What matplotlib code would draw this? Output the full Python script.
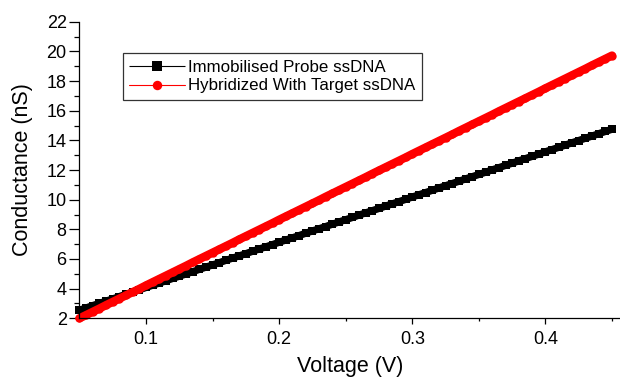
import matplotlib
matplotlib.use("Agg")
import matplotlib.pyplot as plt
from matplotlib.ticker import MultipleLocator

# voltage sweep (V), every 0.005 V
voltage = [0.050, 0.055, 0.060, 0.065, 0.070, 0.075, 0.080, 0.085, 0.090, 0.095,
           0.100, 0.105, 0.110, 0.115, 0.120, 0.125, 0.130, 0.135, 0.140, 0.145,
           0.150, 0.155, 0.160, 0.165, 0.170, 0.175, 0.180, 0.185, 0.190, 0.195,
           0.200, 0.205, 0.210, 0.215, 0.220, 0.225, 0.230, 0.235, 0.240, 0.245,
           0.250, 0.255, 0.260, 0.265, 0.270, 0.275, 0.280, 0.285, 0.290, 0.295,
           0.300, 0.305, 0.310, 0.315, 0.320, 0.325, 0.330, 0.335, 0.340, 0.345,
           0.350, 0.355, 0.360, 0.365, 0.370, 0.375, 0.380, 0.385, 0.390, 0.395,
           0.400, 0.405, 0.410, 0.415, 0.420, 0.425, 0.430, 0.435, 0.440, 0.445,
           0.450]

# conductance (nS)
probe = [2.55, 2.70, 2.86, 3.01, 3.16, 3.31, 3.47, 3.62, 3.77, 3.92,
         4.08, 4.23, 4.38, 4.53, 4.69, 4.84, 4.99, 5.14, 5.30, 5.45,
         5.60, 5.75, 5.91, 6.06, 6.21, 6.36, 6.52, 6.67, 6.82, 6.97,
         7.13, 7.28, 7.43, 7.58, 7.74, 7.89, 8.04, 8.19, 8.35, 8.50,
         8.65, 8.80, 8.96, 9.11, 9.26, 9.41, 9.57, 9.72, 9.87, 10.02,
         10.18, 10.33, 10.48, 10.63, 10.79, 10.94, 11.09, 11.24, 11.40, 11.55,
         11.70, 11.85, 12.01, 12.16, 12.31, 12.46, 12.62, 12.77, 12.92, 13.07,
         13.23, 13.38, 13.53, 13.68, 13.84, 13.99, 14.14, 14.29, 14.45, 14.60,
         14.75]

hybrid = [2.00, 2.22, 2.44, 2.66, 2.89, 3.11, 3.33, 3.55, 3.77, 3.99,
          4.22, 4.44, 4.66, 4.88, 5.10, 5.32, 5.54, 5.77, 5.99, 6.21,
          6.43, 6.65, 6.87, 7.09, 7.32, 7.54, 7.76, 7.98, 8.20, 8.42,
          8.65, 8.87, 9.09, 9.31, 9.53, 9.75, 9.97, 10.20, 10.42, 10.64,
          10.86, 11.08, 11.30, 11.52, 11.75, 11.97, 12.19, 12.41, 12.63, 12.85,
          13.08, 13.30, 13.52, 13.74, 13.96, 14.18, 14.40, 14.63, 14.85, 15.07,
          15.29, 15.51, 15.73, 15.96, 16.18, 16.40, 16.62, 16.84, 17.06, 17.28,
          17.51, 17.73, 17.95, 18.17, 18.39, 18.61, 18.83, 19.06, 19.28, 19.50,
          19.72]

plt.rcParams['font.family'] = ['Liberation Sans', 'DejaVu Sans']

fig = plt.figure(figsize=(6.2, 3.83), dpi=100)
ax = fig.add_axes([0.1282, 0.1689, 0.8718, 0.7744])

# markers in the original are so dense they merge into a thick band
ax.plot(voltage, probe, color='black', lw=5.2, solid_capstyle='butt',
        marker='s', ms=5.6, mew=0, mfc='black',
        label='Immobilised Probe ssDNA', clip_on=False)
ax.plot(voltage, hybrid, color='red', lw=6.0, solid_capstyle='round',
        marker='o', ms=6.0, mew=0, mfc='red',
        label='Hybridized With Target ssDNA', clip_on=False)

ax.set_xlim(0.05, 0.456)
ax.set_ylim(2, 22)
ax.xaxis.set_major_locator(MultipleLocator(0.1))
ax.xaxis.set_minor_locator(MultipleLocator(0.05))
ax.yaxis.set_major_locator(MultipleLocator(2))
ax.yaxis.set_minor_locator(MultipleLocator(1))

for s in ['top', 'right']:
    ax.spines[s].set_visible(False)
for s in ['left', 'bottom']:
    ax.spines[s].set_linewidth(0.9)

ax.tick_params(axis='x', which='major', direction='out', length=4.2, width=0.9,
               labelsize=13, pad=5)
ax.tick_params(axis='x', which='minor', direction='out', length=2.2, width=0.9)
ax.tick_params(axis='y', which='major', direction='out', length=7.2, width=0.9,
               labelsize=13, pad=2)
ax.tick_params(axis='y', which='minor', direction='out', length=3.6, width=0.9)

ax.set_xlabel('Voltage (V)', fontsize=15.5, labelpad=6)
ax.set_ylabel('Conductance (nS)', fontsize=15.5, labelpad=10)

leg = ax.legend(loc='upper left', bbox_to_anchor=(122.7 / 620, 1 - 53.3 / 383),
                bbox_transform=fig.transFigure, borderaxespad=0, fontsize=12.2,
                frameon=True, fancybox=False, framealpha=1, edgecolor='#333333',
                handlelength=3.3, handletextpad=0.15, borderpad=0.4,
                labelspacing=0.2)
leg.get_frame().set_linewidth(0.9)
# legend keeps the thin connecting line of the original
for h in leg.get_lines():
    h.set_linewidth(0.8)
    h.set_markersize(6.8)

fig.savefig('out.png', dpi=100)
